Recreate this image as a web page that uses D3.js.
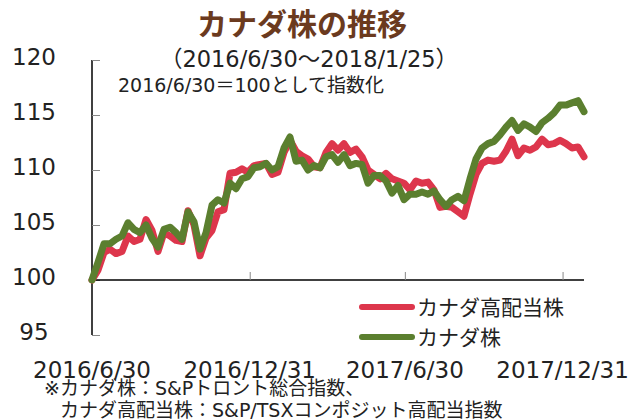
<!DOCTYPE html>
<meta charset="utf-8">
<head>
  <title>カナダ株の推移</title>
</head>

<style>
body { margin: 0; background: #fff; }
svg text { fill: #222; }
.jp { font-family: "DejaVu Sans", "Noto Sans CJK JP", sans-serif; }
.ttl { font-family: "Noto Sans CJK JP", sans-serif; }
.num { font-family: "DejaVu Sans", "Noto Sans CJK JP", sans-serif; }
</style>

<body>
  <svg width="642" height="419"></svg>

  <script src="https://cdnjs.cloudflare.com/ajax/libs/d3/7.8.5/d3.min.js"></script>

  <script>
var width = 642, height = 419

// weekly points from 2016/6/30 to 2018/1/25
var startDate = new Date(2016, 5, 30)
var endDate = new Date(2018, 0, 25)

// カナダ株 (S&Pトロント総合指数), 2016/6/30 = 100
var canada = [
  100.0, 101.6, 103.3, 103.3, 103.7, 104.0, 105.2, 104.6, 104.3, 105.0,
  103.8, 103.0, 104.6, 104.8, 104.3, 103.7, 106.2, 105.3, 102.8, 104.3,
  106.8, 107.3, 107.0, 108.8, 108.3, 109.2, 109.4, 110.2, 110.3, 110.6,
  110.0, 110.3, 112.0, 113.0, 110.8, 110.9, 110.0, 110.4, 110.2, 111.2,
  111.4, 110.7, 111.4, 110.4, 110.6, 110.5, 108.8, 109.5, 109.5, 109.0,
  107.9, 108.6, 107.3, 107.8, 107.8, 108.0, 107.8, 108.1, 107.3, 106.7,
  107.3, 107.6, 107.2, 109.2, 111.0, 112.0, 112.4, 112.6, 113.2, 113.9,
  114.5, 113.6, 114.2, 113.9, 113.5, 114.3, 114.7, 115.2, 115.9, 115.9,
  116.1, 116.3, 115.3
]

// カナダ高配当株 (S&P/TSXコンポジット高配当指数), 2016/6/30 = 100
var highDiv = [
  100.0, 100.9, 102.5, 102.8, 102.4, 102.6, 104.0, 103.5, 103.7, 105.5,
  104.5, 102.6, 104.3, 104.0, 103.6, 103.5, 106.3, 105.0, 102.2, 103.8,
  104.5, 106.2, 106.4, 109.7, 109.8, 110.1, 109.8, 110.4, 110.5, 110.6,
  109.6, 109.8, 111.6, 112.7, 111.7, 111.3, 111.0, 110.3, 110.2, 111.6,
  112.4, 111.8, 112.4, 111.6, 111.9, 111.2, 110.0, 109.6, 109.2, 109.7,
  109.2, 109.0, 108.8, 108.2, 109.0, 108.8, 108.9, 108.2, 106.6, 106.7,
  106.6, 106.2, 105.8, 107.8, 109.6, 110.6, 110.9, 110.8, 110.9, 111.7,
  112.8, 111.3, 112.0, 111.8, 112.1, 112.8, 112.3, 112.4, 112.7, 112.4,
  112.0, 112.1, 111.2
]

var seriesNames = ['カナダ高配当株', 'カナダ株']
var seriesColors = ['#dd364c', '#5b7f2f']

var yTicks = [95, 100, 105, 110, 115, 120]
var xTickDates = [new Date(2016, 5, 30), new Date(2016, 11, 31), new Date(2017, 5, 30), new Date(2017, 11, 31)]
var xTickLabels = ['2016/6/30', '2016/12/31', '2017/6/30', '2017/12/31']

var dates = d3.timeDay.range(startDate, d3.timeDay.offset(endDate, 1), 7)

var svg = d3.select('svg')

var x = d3.scaleTime().domain([startDate, endDate]).range([92, 584])
var y = d3.scaleLinear().domain([95, 120]).range([335, 60])

// remnants of the chart above (only the bottoms of the slashes show)
svg.append('g').selectAll('text')
  .data(xTickLabels)
  .enter().append('text')
  .attr('class', 'num')
  .attr('x', function(d, i) { return x(xTickDates[i]) })
  .attr('y', -2)
  .attr('text-anchor', 'middle')
  .attr('font-size', 23)
  .text(function(d) { return d })

// title
svg.append('text')
  .attr('class', 'ttl')
  .attr('x', 302).attr('y', 35)
  .attr('text-anchor', 'middle')
  .attr('font-size', 30)
  .attr('font-weight', 'bold')
  .style('fill', '#6b3a1e')
  .text('カナダ株の推移')

svg.append('text')
  .attr('class', 'jp')
  .attr('x', 309).attr('y', 67)
  .attr('text-anchor', 'middle')
  .attr('font-size', 22.5)
  .text('（2016/6/30～2018/1/25）')

svg.append('text')
  .attr('class', 'jp')
  .attr('x', 118).attr('y', 92)
  .attr('font-size', 19)
  .text('2016/6/30＝100として指数化')

// y axis
var yAxis = d3.axisRight(y).tickValues(yTicks).tickSize(8).tickFormat('')
var gy = svg.append('g').attr('transform', 'translate(92,0)').call(yAxis)
gy.select('.domain').attr('stroke', '#000').attr('stroke-width', 1.5).attr('d', 'M0,60V335')
gy.selectAll('.tick line').attr('stroke', '#888')

svg.append('g').selectAll('text')
  .data(yTicks)
  .enter().append('text')
  .attr('class', 'num')
  .attr('x', 34)
  .attr('y', function(d) { return y(d) + 5 })
  .attr('text-anchor', 'middle')
  .attr('font-size', 23)
  .text(function(d) { return d })

// x axis at 100
var xAxis = d3.axisTop(x).tickValues(xTickDates.slice(1)).tickSize(8).tickFormat('')
var gx = svg.append('g').attr('transform', 'translate(0,' + y(100) + ')').call(xAxis)
gx.select('.domain').attr('stroke', '#000').attr('stroke-width', 1.5).attr('d', 'M92,0H584')
gx.selectAll('.tick line').attr('stroke', '#888')

svg.append('g').selectAll('text')
  .data(xTickLabels)
  .enter().append('text')
  .attr('class', 'num')
  .attr('x', function(d, i) { return x(xTickDates[i]) })
  .attr('y', 378)
  .attr('text-anchor', 'middle')
  .attr('font-size', 23)
  .text(function(d) { return d })

// lines
var line = d3.line()
  .x(function(d, i) { return x(dates[i]) })
  .y(function(d) { return y(d) })

svg.append('g').selectAll('path.series')
  .data([highDiv, canada])
  .enter().append('path')
  .attr('class', 'series')
  .attr('d', line)
  .attr('fill', 'none')
  .attr('stroke', function(d, i) { return seriesColors[i] })
  .attr('stroke-width', 7)
  .attr('stroke-linejoin', 'round')
  .attr('stroke-linecap', 'round')

// legend
var lg = svg.append('g').selectAll('g')
  .data(seriesNames)
  .enter().append('g')
  .attr('transform', function(d, i) { return 'translate(0,' + (307 + i * 30) + ')' })

lg.append('line')
  .attr('x1', 362).attr('x2', 412)
  .attr('stroke', function(d, i) { return seriesColors[i] })
  .attr('stroke-width', 6)
  .attr('stroke-linecap', 'round')

lg.append('text')
  .attr('class', 'ttl')
  .attr('x', 417).attr('y', 8)
  .attr('font-size', 21)
  .text(function(d) { return d })

// footnote
svg.append('text')
  .attr('class', 'jp')
  .attr('x', 44).attr('y', 395)
  .attr('font-size', 19)
  .text('※カナダ株：S&Pトロント総合指数、')

svg.append('text')
  .attr('class', 'jp')
  .attr('x', 60).attr('y', 417)
  .attr('font-size', 19)
  .text('カナダ高配当株：S&P/TSXコンポジット高配当指数')
  </script>
</body>
</html>
